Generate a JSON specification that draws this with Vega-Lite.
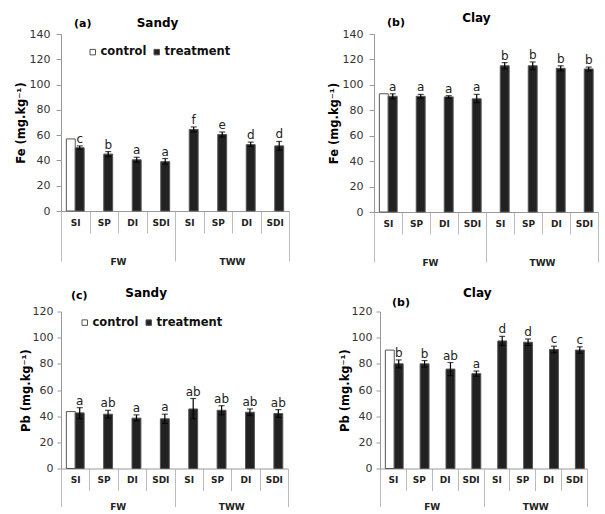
{
  "$schema": "https://vega.github.io/schema/vega-lite/v6.json",
  "padding": {"left": 15, "top": 11, "right": 0, "bottom": 0},
  "config": {
    "font": "DejaVu Sans",
    "view": {"stroke": null},
    "title": {"anchor": "start", "frame": "group", "fontSize": 11, "fontWeight": "bold", "color": "#000", "subtitleFontSize": 12, "subtitleFontWeight": "bold", "subtitleColor": "#000", "subtitleFont": "DejaVu Sans"},
    "axis": {"grid": false, "labelOverlap": false},
    "axisY": {"labelOverlap": false, "tickCount": 8},
    "axisQuantitative": {"labelOverlap": false}
  },
  "datasets": {
    "sandyFe": [
      {"cat": "FW|SI", "group": "FW", "series": "control", "value": 57},
      {"cat": "FW|SI", "group": "FW", "series": "treatment", "value": 50, "lo": 49, "hi": 51.5, "letter": "c"},
      {"cat": "FW|SP", "group": "FW", "series": "treatment", "value": 45, "lo": 43, "hi": 47, "letter": "b"},
      {"cat": "FW|DI", "group": "FW", "series": "treatment", "value": 40.5, "lo": 38.5, "hi": 42.5, "letter": "a"},
      {"cat": "FW|SDI", "group": "FW", "series": "treatment", "value": 39, "lo": 37, "hi": 41.5, "letter": "a"},
      {"cat": "TWW|SI", "group": "TWW", "series": "treatment", "value": 64.5, "lo": 62.5, "hi": 66.5, "letter": "f"},
      {"cat": "TWW|SP", "group": "TWW", "series": "treatment", "value": 60.5, "lo": 58.5, "hi": 62.5, "letter": "e"},
      {"cat": "TWW|DI", "group": "TWW", "series": "treatment", "value": 52.5, "lo": 51, "hi": 54.5, "letter": "d"},
      {"cat": "TWW|SDI", "group": "TWW", "series": "treatment", "value": 51.5, "lo": 48, "hi": 55, "letter": "d"}
    ],
    "clayFe": [
      {"cat": "FW|SI", "group": "FW", "series": "control", "value": 93},
      {"cat": "FW|SI", "group": "FW", "series": "treatment", "value": 91, "lo": 89, "hi": 93, "letter": "a"},
      {"cat": "FW|SP", "group": "FW", "series": "treatment", "value": 91, "lo": 89.5, "hi": 92.5, "letter": "a"},
      {"cat": "FW|DI", "group": "FW", "series": "treatment", "value": 90.5, "lo": 89.5, "hi": 91.5, "letter": "a"},
      {"cat": "FW|SDI", "group": "FW", "series": "treatment", "value": 89, "lo": 86, "hi": 92.5, "letter": "a"},
      {"cat": "TWW|SI", "group": "TWW", "series": "treatment", "value": 115, "lo": 112.5, "hi": 117.5, "letter": "b"},
      {"cat": "TWW|SP", "group": "TWW", "series": "treatment", "value": 115, "lo": 112, "hi": 118, "letter": "b"},
      {"cat": "TWW|DI", "group": "TWW", "series": "treatment", "value": 113, "lo": 111, "hi": 115, "letter": "b"},
      {"cat": "TWW|SDI", "group": "TWW", "series": "treatment", "value": 112.5, "lo": 111, "hi": 114, "letter": "b"}
    ],
    "sandyPb": [
      {"cat": "FW|SI", "group": "FW", "series": "control", "value": 43.5},
      {"cat": "FW|SI", "group": "FW", "series": "treatment", "value": 42.5, "lo": 38, "hi": 46.5, "letter": "a"},
      {"cat": "FW|SP", "group": "FW", "series": "treatment", "value": 41.5, "lo": 38.5, "hi": 44.5, "letter": "ab"},
      {"cat": "FW|DI", "group": "FW", "series": "treatment", "value": 38.5, "lo": 36.5, "hi": 41, "letter": "a"},
      {"cat": "FW|SDI", "group": "FW", "series": "treatment", "value": 38, "lo": 34.5, "hi": 41.5, "letter": "a"},
      {"cat": "TWW|SI", "group": "TWW", "series": "treatment", "value": 45.5, "lo": 38, "hi": 53.5, "letter": "ab"},
      {"cat": "TWW|SP", "group": "TWW", "series": "treatment", "value": 44.5, "lo": 41, "hi": 48, "letter": "ab"},
      {"cat": "TWW|DI", "group": "TWW", "series": "treatment", "value": 43, "lo": 40.5, "hi": 45.5, "letter": "ab"},
      {"cat": "TWW|SDI", "group": "TWW", "series": "treatment", "value": 42, "lo": 39, "hi": 45, "letter": "ab"}
    ],
    "clayPb": [
      {"cat": "FW|SI", "group": "FW", "series": "control", "value": 90.5},
      {"cat": "FW|SI", "group": "FW", "series": "treatment", "value": 80, "lo": 77, "hi": 83, "letter": "b"},
      {"cat": "FW|SP", "group": "FW", "series": "treatment", "value": 80, "lo": 77.5, "hi": 82.5, "letter": "b"},
      {"cat": "FW|DI", "group": "FW", "series": "treatment", "value": 76, "lo": 71, "hi": 81, "letter": "ab"},
      {"cat": "FW|SDI", "group": "FW", "series": "treatment", "value": 72.5, "lo": 70.5, "hi": 74.5, "letter": "a"},
      {"cat": "TWW|SI", "group": "TWW", "series": "treatment", "value": 97.5, "lo": 94, "hi": 101, "letter": "d"},
      {"cat": "TWW|SP", "group": "TWW", "series": "treatment", "value": 96.5, "lo": 94, "hi": 99, "letter": "d"},
      {"cat": "TWW|DI", "group": "TWW", "series": "treatment", "value": 91, "lo": 88.5, "hi": 93.5, "letter": "c"},
      {"cat": "TWW|SDI", "group": "TWW", "series": "treatment", "value": 90.5, "lo": 88, "hi": 93, "letter": "c"}
    ]
  },
  "resolve": {"scale": {"fill": "independent"}, "legend": {"fill": "independent"}},
  "spacing": 19.5,
  "vconcat": [
    {
      "spacing": 38,
      "resolve": {"scale": {"fill": "independent"}, "legend": {"fill": "independent"}},
      "hconcat": [
        {
          "width": 228, "height": 177,
          "data": {"name": "sandyFe"},
          "title": {"text": "(a)", "subtitle": "\u200b\u00a0\u00a0\u00a0\u00a0\u00a0\u00a0\u00a0\u00a0\u00a0\u00a0\u00a0\u00a0\u00a0\u00a0\u00a0Sandy", "subtitlePadding": -11, "offset": -1.5, "dx": 13},
          "resolve": {"scale": {"x": "independent"}, "axis": {"x": "independent"}},
          "layer": [
            {"layer": [
              {"mark": {"type": "bar", "stroke": "#555", "strokeWidth": 1},
               "encoding": {
                 "x": {"field": "cat", "type": "nominal", "scale": {"domain": ["FW|SI","FW|SP","FW|DI","FW|SDI","TWW|SI","TWW|SP","TWW|DI","TWW|SDI"], "paddingInner": 0, "paddingOuter": 0},
                       "axis": {"title": null, "labelExpr": "split(datum.value, '|')[1]", "labelAngle": 0, "tickBand": "extent", "tickSize": 22, "tickColor": "#bbb", "domainColor": "#999", "labelPadding": -15, "labelFontSize": 9, "labelFontWeight": "bold", "labelColor": "#222"}},
                 "xOffset": {"field": "series", "scale": {"domain": ["control","treatment"], "paddingOuter": 0.6, "paddingInner": 0}},
                 "y": {"field": "value", "type": "quantitative", "scale": {"domain": [0,140], "nice": false},
                       "axis": {"values": [0,20,40,60,80,100,120,140], "labelOverlap": false, "tickSize": 5, "labelPadding": 6, "domainColor": "#999", "tickColor": "#999", "labelFontSize": 11, "labelColor": "#333", "title": "Fe (mg.kg\u207b\u00b9)", "titleFontSize": 11.5, "titleFontWeight": "bold", "titleColor": "#000", "titlePadding": 3}},
                 "fill": {"field": "series", "type": "nominal", "scale": {"domain": ["control","treatment"], "range": ["#ffffff","#222222"]},
                          "legend": {"orient": "none", "legendX": 26, "legendY": 12, "direction": "horizontal", "title": null, "symbolType": "square", "symbolSize": 30, "symbolStrokeColor": "#555", "symbolStrokeWidth": 1, "labelFontSize": 11.5, "labelFontWeight": "bold", "labelColor": "#111", "columnPadding": 4, "labelOffset": 2, "padding": 0}}
               }},
              {"transform": [{"filter": "datum.series == 'treatment'"}],
               "mark": {"type": "rule", "color": "#000", "strokeWidth": 1.2},
               "encoding": {"x": {"field": "cat", "type": "nominal"}, "xOffset": {"field": "series"}, "y": {"field": "lo", "type": "quantitative", "axis": {"values": [0,20,40,60,80,100,120,140], "labelOverlap": false}}, "y2": {"field": "hi"}}},
              {"transform": [{"filter": "datum.series == 'treatment'"}],
               "mark": {"type": "tick", "color": "#000", "size": 6, "thickness": 1.2},
               "encoding": {"x": {"field": "cat", "type": "nominal"}, "xOffset": {"field": "series"}, "y": {"field": "hi", "type": "quantitative", "axis": {"values": [0,20,40,60,80,100,120,140], "labelOverlap": false}}}},
              {"transform": [{"filter": "datum.series == 'treatment'"}],
               "mark": {"type": "tick", "color": "#000", "size": 6, "thickness": 1.2},
               "encoding": {"x": {"field": "cat", "type": "nominal"}, "xOffset": {"field": "series"}, "y": {"field": "lo", "type": "quantitative", "axis": {"values": [0,20,40,60,80,100,120,140], "labelOverlap": false}}}},
              {"transform": [{"filter": "datum.series == 'treatment'"}],
               "mark": {"type": "text", "dy": -3, "baseline": "alphabetic", "fontSize": 12, "color": "#222"},
               "encoding": {"x": {"field": "cat", "type": "nominal"}, "xOffset": {"field": "series"}, "y": {"field": "hi", "type": "quantitative", "axis": {"values": [0,20,40,60,80,100,120,140], "labelOverlap": false}}, "text": {"field": "letter"}}}
            ]},
            {"mark": {"type": "text", "text": ""},
             "encoding": {"x": {"field": "group", "type": "nominal", "scale": {"domain": ["FW","TWW"], "paddingInner": 0, "paddingOuter": 0},
                               "axis": {"title": null, "orient": "bottom", "labelAngle": 0, "tickBand": "extent", "tickSize": 50, "tickColor": "#bbb", "domain": false, "labelPadding": -4, "labelFontSize": 9, "labelFontWeight": "bold", "labelColor": "#222"}}}}
          ]
        },
        {
          "width": 224, "height": 178,
          "data": {"name": "clayFe"},
          "title": {"text": "(b)", "subtitle": "\u200b\u00a0\u00a0\u00a0\u00a0\u00a0\u00a0\u00a0\u00a0\u00a0\u00a0\u00a0\u00a0\u00a0\u00a0\u00a0\u00a0\u00a0\u00a0Clay", "subtitlePadding": -15, "offset": -4.5, "dx": 13},
          "resolve": {"scale": {"x": "independent"}, "axis": {"x": "independent"}},
          "layer": [
            {"layer": [
              {"mark": {"type": "bar", "stroke": "#555", "strokeWidth": 1},
               "encoding": {
                 "x": {"field": "cat", "type": "nominal", "scale": {"domain": ["FW|SI","FW|SP","FW|DI","FW|SDI","TWW|SI","TWW|SP","TWW|DI","TWW|SDI"], "paddingInner": 0, "paddingOuter": 0},
                       "axis": {"title": null, "labelExpr": "split(datum.value, '|')[1]", "labelAngle": 0, "tickBand": "extent", "tickSize": 22, "tickColor": "#bbb", "domainColor": "#999", "labelPadding": -15, "labelFontSize": 9, "labelFontWeight": "bold", "labelColor": "#222"}},
                 "xOffset": {"field": "series", "scale": {"domain": ["control","treatment"], "paddingOuter": 0.6, "paddingInner": 0}},
                 "y": {"field": "value", "type": "quantitative", "scale": {"domain": [0,140], "nice": false},
                       "axis": {"values": [0,20,40,60,80,100,120,140], "labelOverlap": false, "tickSize": 5, "labelPadding": 6, "domainColor": "#999", "tickColor": "#999", "labelFontSize": 11, "labelColor": "#333", "title": "Fe (mg.kg\u207b\u00b9)", "titleFontSize": 11.5, "titleFontWeight": "bold", "titleColor": "#000", "titlePadding": 3}},
                 "fill": {"field": "series", "type": "nominal", "scale": {"domain": ["control","treatment"], "range": ["#ffffff","#222222"]}, "legend": null}
               }},
              {"transform": [{"filter": "datum.series == 'treatment'"}],
               "mark": {"type": "rule", "color": "#000", "strokeWidth": 1.2},
               "encoding": {"x": {"field": "cat", "type": "nominal"}, "xOffset": {"field": "series"}, "y": {"field": "lo", "type": "quantitative", "axis": {"values": [0,20,40,60,80,100,120,140], "labelOverlap": false}}, "y2": {"field": "hi"}}},
              {"transform": [{"filter": "datum.series == 'treatment'"}],
               "mark": {"type": "tick", "color": "#000", "size": 6, "thickness": 1.2},
               "encoding": {"x": {"field": "cat", "type": "nominal"}, "xOffset": {"field": "series"}, "y": {"field": "hi", "type": "quantitative", "axis": {"values": [0,20,40,60,80,100,120,140], "labelOverlap": false}}}},
              {"transform": [{"filter": "datum.series == 'treatment'"}],
               "mark": {"type": "tick", "color": "#000", "size": 6, "thickness": 1.2},
               "encoding": {"x": {"field": "cat", "type": "nominal"}, "xOffset": {"field": "series"}, "y": {"field": "lo", "type": "quantitative", "axis": {"values": [0,20,40,60,80,100,120,140], "labelOverlap": false}}}},
              {"transform": [{"filter": "datum.series == 'treatment'"}],
               "mark": {"type": "text", "dy": -3, "baseline": "alphabetic", "fontSize": 12, "color": "#222"},
               "encoding": {"x": {"field": "cat", "type": "nominal"}, "xOffset": {"field": "series"}, "y": {"field": "hi", "type": "quantitative", "axis": {"values": [0,20,40,60,80,100,120,140], "labelOverlap": false}}, "text": {"field": "letter"}}}
            ]},
            {"mark": {"type": "text", "text": ""},
             "encoding": {"x": {"field": "group", "type": "nominal", "scale": {"domain": ["FW","TWW"], "paddingInner": 0, "paddingOuter": 0},
                               "axis": {"title": null, "orient": "bottom", "labelAngle": 0, "tickBand": "extent", "tickSize": 50, "tickColor": "#bbb", "domain": false, "labelPadding": -4, "labelFontSize": 9, "labelFontWeight": "bold", "labelColor": "#222"}}}}
          ]
        }
      ]
    },
    {
      "spacing": 50,
      "resolve": {"scale": {"fill": "independent"}, "legend": {"fill": "independent"}},
      "hconcat": [
        {
          "width": 227, "height": 157,
          "data": {"name": "sandyPb"},
          "title": {"text": "(c)", "subtitle": "\u200b\u00a0\u00a0\u00a0\u00a0\u00a0\u00a0\u00a0\u00a0\u00a0\u00a0\u00a0\u00a0\u00a0Sandy", "subtitlePadding": -13, "offset": 2, "dx": 10},
          "resolve": {"scale": {"x": "independent"}, "axis": {"x": "independent"}},
          "layer": [
            {"layer": [
              {"mark": {"type": "bar", "stroke": "#555", "strokeWidth": 1},
               "encoding": {
                 "x": {"field": "cat", "type": "nominal", "scale": {"domain": ["FW|SI","FW|SP","FW|DI","FW|SDI","TWW|SI","TWW|SP","TWW|DI","TWW|SDI"], "paddingInner": 0, "paddingOuter": 0},
                       "axis": {"title": null, "labelExpr": "split(datum.value, '|')[1]", "labelAngle": 0, "tickBand": "extent", "tickSize": 22, "tickColor": "#bbb", "domainColor": "#999", "labelPadding": -15, "labelFontSize": 9, "labelFontWeight": "bold", "labelColor": "#222"}},
                 "xOffset": {"field": "series", "scale": {"domain": ["control","treatment"], "paddingOuter": 0.6, "paddingInner": 0}},
                 "y": {"field": "value", "type": "quantitative", "scale": {"domain": [0,120], "nice": false},
                       "axis": {"values": [0,20,40,60,80,100,120], "labelOverlap": false, "tickSize": 4, "labelPadding": 4, "domainColor": "#999", "tickColor": "#999", "labelFontSize": 11, "labelColor": "#333", "title": "Pb (mg.kg\u207b\u00b9)", "titleFontSize": 11.5, "titleFontWeight": "bold", "titleColor": "#000", "titlePadding": 1}},
                 "fill": {"field": "series", "type": "nominal", "scale": {"domain": ["control","treatment"], "range": ["#ffffff","#222222"]},
                          "legend": {"orient": "none", "legendX": 18, "legendY": 5, "direction": "horizontal", "title": null, "symbolType": "square", "symbolSize": 30, "symbolStrokeColor": "#555", "symbolStrokeWidth": 1, "labelFontSize": 11.5, "labelFontWeight": "bold", "labelColor": "#111", "columnPadding": 4, "labelOffset": 2, "padding": 0}}
               }},
              {"transform": [{"filter": "datum.series == 'treatment'"}],
               "mark": {"type": "rule", "color": "#000", "strokeWidth": 1.2},
               "encoding": {"x": {"field": "cat", "type": "nominal"}, "xOffset": {"field": "series"}, "y": {"field": "lo", "type": "quantitative", "axis": {"values": [0,20,40,60,80,100,120], "labelOverlap": false}}, "y2": {"field": "hi"}}},
              {"transform": [{"filter": "datum.series == 'treatment'"}],
               "mark": {"type": "tick", "color": "#000", "size": 6, "thickness": 1.2},
               "encoding": {"x": {"field": "cat", "type": "nominal"}, "xOffset": {"field": "series"}, "y": {"field": "hi", "type": "quantitative", "axis": {"values": [0,20,40,60,80,100,120], "labelOverlap": false}}}},
              {"transform": [{"filter": "datum.series == 'treatment'"}],
               "mark": {"type": "tick", "color": "#000", "size": 6, "thickness": 1.2},
               "encoding": {"x": {"field": "cat", "type": "nominal"}, "xOffset": {"field": "series"}, "y": {"field": "lo", "type": "quantitative", "axis": {"values": [0,20,40,60,80,100,120], "labelOverlap": false}}}},
              {"transform": [{"filter": "datum.series == 'treatment'"}],
               "mark": {"type": "text", "dy": -3, "baseline": "alphabetic", "fontSize": 12, "color": "#222"},
               "encoding": {"x": {"field": "cat", "type": "nominal"}, "xOffset": {"field": "series"}, "y": {"field": "hi", "type": "quantitative", "axis": {"values": [0,20,40,60,80,100,120], "labelOverlap": false}}, "text": {"field": "letter"}}}
            ]},
            {"mark": {"type": "text", "text": ""},
             "encoding": {"x": {"field": "group", "type": "nominal", "scale": {"domain": ["FW","TWW"], "paddingInner": 0, "paddingOuter": 0},
                               "axis": {"title": null, "orient": "bottom", "labelAngle": 0, "tickBand": "extent", "tickSize": 38, "tickColor": "#bbb", "domain": false, "labelPadding": -4, "labelFontSize": 9, "labelFontWeight": "bold", "labelColor": "#222"}}}}
          ]
        },
        {
          "width": 207, "height": 157,
          "data": {"name": "clayPb"},
          "title": {"text": "(b)", "subtitle": "\u200b\u00a0\u00a0\u00a0\u00a0\u00a0\u00a0\u00a0\u00a0\u00a0\u00a0\u00a0\u00a0\u00a0\u00a0\u00a0\u00a0\u00a0Clay", "subtitlePadding": -20, "offset": -12, "dx": 12},
          "resolve": {"scale": {"x": "independent"}, "axis": {"x": "independent"}},
          "layer": [
            {"layer": [
              {"mark": {"type": "bar", "stroke": "#555", "strokeWidth": 1},
               "encoding": {
                 "x": {"field": "cat", "type": "nominal", "scale": {"domain": ["FW|SI","FW|SP","FW|DI","FW|SDI","TWW|SI","TWW|SP","TWW|DI","TWW|SDI"], "paddingInner": 0, "paddingOuter": 0},
                       "axis": {"title": null, "labelExpr": "split(datum.value, '|')[1]", "labelAngle": 0, "tickBand": "extent", "tickSize": 22, "tickColor": "#bbb", "domainColor": "#999", "labelPadding": -15, "labelFontSize": 9, "labelFontWeight": "bold", "labelColor": "#222"}},
                 "xOffset": {"field": "series", "scale": {"domain": ["control","treatment"], "paddingOuter": 0.6, "paddingInner": 0}},
                 "y": {"field": "value", "type": "quantitative", "scale": {"domain": [0,120], "nice": false},
                       "axis": {"values": [0,20,40,60,80,100,120], "labelOverlap": false, "tickSize": 4, "labelPadding": 4, "domainColor": "#999", "tickColor": "#999", "labelFontSize": 11, "labelColor": "#333", "title": "Pb (mg.kg\u207b\u00b9)", "titleFontSize": 11.5, "titleFontWeight": "bold", "titleColor": "#000", "titlePadding": 1}},
                 "fill": {"field": "series", "type": "nominal", "scale": {"domain": ["control","treatment"], "range": ["#ffffff","#222222"]}, "legend": null}
               }},
              {"transform": [{"filter": "datum.series == 'treatment'"}],
               "mark": {"type": "rule", "color": "#000", "strokeWidth": 1.2},
               "encoding": {"x": {"field": "cat", "type": "nominal"}, "xOffset": {"field": "series"}, "y": {"field": "lo", "type": "quantitative", "axis": {"values": [0,20,40,60,80,100,120], "labelOverlap": false}}, "y2": {"field": "hi"}}},
              {"transform": [{"filter": "datum.series == 'treatment'"}],
               "mark": {"type": "tick", "color": "#000", "size": 6, "thickness": 1.2},
               "encoding": {"x": {"field": "cat", "type": "nominal"}, "xOffset": {"field": "series"}, "y": {"field": "hi", "type": "quantitative", "axis": {"values": [0,20,40,60,80,100,120], "labelOverlap": false}}}},
              {"transform": [{"filter": "datum.series == 'treatment'"}],
               "mark": {"type": "tick", "color": "#000", "size": 6, "thickness": 1.2},
               "encoding": {"x": {"field": "cat", "type": "nominal"}, "xOffset": {"field": "series"}, "y": {"field": "lo", "type": "quantitative", "axis": {"values": [0,20,40,60,80,100,120], "labelOverlap": false}}}},
              {"transform": [{"filter": "datum.series == 'treatment'"}],
               "mark": {"type": "text", "dy": -3, "baseline": "alphabetic", "fontSize": 12, "color": "#222"},
               "encoding": {"x": {"field": "cat", "type": "nominal"}, "xOffset": {"field": "series"}, "y": {"field": "hi", "type": "quantitative", "axis": {"values": [0,20,40,60,80,100,120], "labelOverlap": false}}, "text": {"field": "letter"}}}
            ]},
            {"mark": {"type": "text", "text": ""},
             "encoding": {"x": {"field": "group", "type": "nominal", "scale": {"domain": ["FW","TWW"], "paddingInner": 0, "paddingOuter": 0},
                               "axis": {"title": null, "orient": "bottom", "labelAngle": 0, "tickBand": "extent", "tickSize": 38, "tickColor": "#bbb", "domain": false, "labelPadding": -4, "labelFontSize": 9, "labelFontWeight": "bold", "labelColor": "#222"}}}}
          ]
        }
      ]
    }
  ]
}
